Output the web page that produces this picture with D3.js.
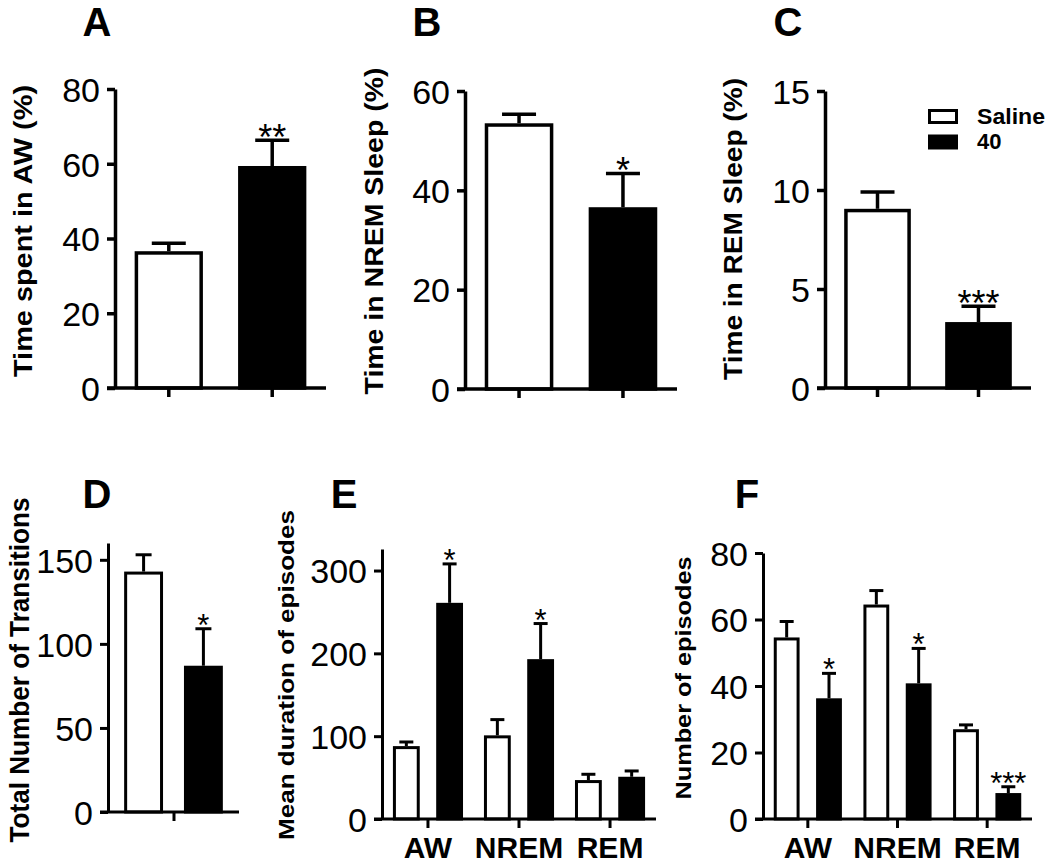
<!DOCTYPE html>
<html><head><meta charset="utf-8">
<script src="https://cdn.jsdelivr.net/npm/d3@7"></script>
<style>
body{margin:0;background:#fff}
svg text{font-family:"Liberation Sans",Arial,Helvetica,sans-serif;fill:#000}
</style>
</head><body>
<svg id="chart" width="1050" height="863"></svg>
<script>
// ---------------- data ----------------
const groups = ["Saline", "40"];
const states = ["AW", "NREM", "REM"];

const awMean = [36.6, 59.4];
const awSem = [2.1, 6.9];
const awSig = ["", "**"];

const nremMean = [53.5, 36.6];
const nremSem = [1.8, 6.8];
const nremSig = ["", "*"];

const remMean = [9.05, 3.33];
const remSem = [0.85, 0.8];
const remSig = ["", "***"];

const transMean = [143, 87];
const transSem = [10, 22];
const transSig = ["", "*"];

const durSaline = [88, 101, 47];
const durSalineSem = [5, 19, 7];
const durSalineSig = ["", "", ""];
const dur40 = [261, 193, 51];
const dur40Sem = [47, 43, 7];
const dur40Sig = ["*", "*", ""];

const epiSaline = [54.6, 64.5, 27];
const epiSalineSem = [4.8, 4.2, 1.3];
const epiSalineSig = ["", "", ""];
const epi40 = [36.3, 40.8, 7.8];
const epi40Sem = [7.5, 10.5, 1.9];
const epi40Sig = ["*", "*", "***"];

const ticksA = [0, 20, 40, 60, 80];
const ticksB = [0, 20, 40, 60];
const ticksC = [0, 5, 10, 15];
const ticksD = [0, 50, 100, 150];
const ticksE = [0, 100, 200, 300];
const ticksF = [0, 20, 40, 60, 80];

const fills = {"Saline": "#fff", "40": "#000"};

// ---------------- layout ----------------
const svg = d3.select("#chart");
const FONT_TICK = 34;

function yAxis(g, y, ticks, sw) {
  const ax = g.append("g").attr("transform", `translate(${y.x0},0)`)
    .call(d3.axisLeft(y.scale).tickValues(ticks).tickSize(8).tickSizeOuter(0).tickPadding(7).tickFormat(d3.format("d")));
  ax.selectAll("path,line").attr("stroke", "#000").attr("stroke-width", sw);
  ax.selectAll("text").attr("font-size", FONT_TICK).attr("dy", "0.36em").attr("fill", "#000");
  return ax;
}

function yLabel(g, text, cx, cy, len, fs) {
  g.append("text")
    .attr("transform", `translate(${cx},${cy}) rotate(-90)`)
    .attr("text-anchor", "middle").attr("dominant-baseline", "central")
    .attr("font-weight", "bold").attr("font-size", fs)
    .attr("textLength", len).attr("lengthAdjust", "spacingAndGlyphs")
    .text(text);
}

function letter(g, t, x, y) {
  g.append("text").attr("x", x).attr("y", y).attr("text-anchor", "middle")
    .attr("font-weight", "bold").attr("font-size", 40).text(t);
}

function drawBar(g, xl, bw, y, yb, v, sem, sig, fill, sw, cap, sfs) {
  g.append("rect")
    .attr("x", xl + sw / 2).attr("width", bw - sw)
    .attr("y", y(v) + sw / 2).attr("height", Math.max(0, yb - y(v) - sw / 2))
    .attr("fill", fill).attr("stroke", "#000").attr("stroke-width", sw);
  const cx = xl + bw / 2;
  const top = y(v + sem);
  g.append("line").attr("x1", cx).attr("x2", cx).attr("y1", y(v)).attr("y2", top)
    .attr("stroke", "#000").attr("stroke-width", sw);
  g.append("line").attr("x1", cx - cap / 2).attr("x2", cx + cap / 2).attr("y1", top).attr("y2", top)
    .attr("stroke", "#000").attr("stroke-width", sw);
  if (sig) {
    g.append("text").attr("x", cx).attr("y", top - 11 + 0.58 * sfs)
      .attr("text-anchor", "middle").attr("font-size", sfs).text(sig);
  }
}

// simple two-bar panels
function simplePanel(p) {
  const g = svg.append("g");
  const y = d3.scaleLinear().domain([0, p.ymax]).range([p.yb, p.yt]);
  const x = d3.scaleBand().domain(groups).range([p.x0, p.x1]).paddingInner(p.pi).paddingOuter(p.po);
  groups.forEach((grp, i) => {
    drawBar(g, x(grp), x.bandwidth(), y, p.yb, p.mean[i], p.sem[i], p.sig[i], fills[grp], p.sw, p.cap, p.sfs);
  });
  yAxis(g, {x0: p.x0, scale: y}, p.ticks, p.sw);
  let xs = x;
  if (p.singleTick) xs = d3.scalePoint().domain(["all"]).range([p.x0, p.x1]).padding(0.5);
  const xa = g.append("g").attr("transform", `translate(0,${p.yb})`)
    .call(d3.axisBottom(xs).tickSize(9).tickSizeOuter(0).tickFormat(""));
  xa.select(".domain").attr("d", `M${p.x0 - 8},0H${p.x1}`);
  xa.selectAll("path,line").attr("stroke", "#000").attr("stroke-width", p.sw);
  yLabel(g, p.label, p.labX, p.labY, p.labLen, p.labFs);
  letter(g, p.letter, p.lx, p.ly);
  return g;
}

// grouped panels
function groupedPanel(p) {
  const g = svg.append("g");
  const y = d3.scaleLinear().domain([0, p.ymax]).range([p.yb, p.yt]);
  const x = d3.scaleBand().domain(states).range([p.x0, p.x1]).paddingInner(p.pi).paddingOuter(p.po);
  const xi = d3.scaleBand().domain(groups).range([0, x.bandwidth()]).paddingInner(p.ipi).paddingOuter(0);
  states.forEach((st, j) => {
    groups.forEach((grp, i) => {
      const s = p.series[i];
      drawBar(g, x(st) + xi(grp), xi.bandwidth(), y, p.yb, s.mean[j], s.sem[j], s.sig[j], fills[grp], p.sw, p.cap, p.sfs);
    });
  });
  yAxis(g, {x0: p.x0, scale: y}, p.ticks, p.sw);
  const xa = g.append("g").attr("transform", `translate(0,${p.yb})`)
    .call(d3.axisBottom(x).tickSize(9).tickSizeOuter(0).tickPadding(9));
  xa.select(".domain").attr("d", `M${p.x0 - 8},0H${p.x1}`);
  xa.selectAll("path,line").attr("stroke", "#000").attr("stroke-width", p.sw);
  xa.selectAll("text").attr("font-size", 30).attr("font-weight", "bold").attr("fill", "#000");
  yLabel(g, p.label, p.labX, p.labY, p.labLen, p.labFs);
  letter(g, p.letter, p.lx, p.ly);
  return g;
}

simplePanel({letter: "A", lx: 97, ly: 36, x0: 115, x1: 326, yb: 388, yt: 89, ymax: 80, ticks: ticksA,
  mean: awMean, sem: awSem, sig: awSig, sw: 3.5, cap: 34, sfs: 36, pi: 0.34, po: 0.19,
  label: "Time spent in AW (%)", labX: 23, labY: 231, labLen: 292, labFs: 25});

simplePanel({letter: "B", lx: 427, ly: 36, x0: 465, x1: 677, yb: 389, yt: 91, ymax: 60, ticks: ticksB,
  mean: nremMean, sem: nremSem, sig: nremSig, sw: 3.5, cap: 34, sfs: 36, pi: 0.34, po: 0.19,
  label: "Time in NREM Sleep (%)", labX: 374, labY: 231, labLen: 327, labFs: 25});

const gC = simplePanel({letter: "C", lx: 788, ly: 36, x0: 825, x1: 1031, yb: 388, yt: 91, ymax: 15, ticks: ticksC,
  mean: remMean, sem: remSem, sig: remSig, sw: 3.5, cap: 34, sfs: 36, pi: 0.34, po: 0.19,
  label: "Time in REM Sleep (%)", labX: 733, labY: 229, labLen: 302, labFs: 25});

// legend
const legend = gC.append("g");
groups.forEach((grp, i) => {
  legend.append("rect").attr("x", 929.5).attr("y", 110.5 + i * 25.5).attr("width", 27).attr("height", 12)
    .attr("fill", fills[grp]).attr("stroke", "#000").attr("stroke-width", 3);
  const t = legend.append("text").attr("x", 977).attr("y", 123.5 + i * 25)
    .attr("font-weight", "bold").attr("font-size", 22).text(grp);
  if (grp === "Saline") t.attr("textLength", 68).attr("lengthAdjust", "spacingAndGlyphs");
});

simplePanel({letter: "D", lx: 97, ly: 508, x0: 108, x1: 239, yb: 812, yt: 543, ymax: 160, ticks: ticksD,
  mean: transMean, sem: transSem, sig: transSig, sw: 3, cap: 16, sfs: 31, pi: 0.35, po: 0.27, singleTick: true,
  label: "Total Number of Transitions", labX: 20, labY: 670, labLen: 345, labFs: 27});

groupedPanel({letter: "E", lx: 344, ly: 508, x0: 382, x1: 656, yb: 819, yt: 549, ymax: 326, ticks: ticksE,
  series: [{mean: durSaline, sem: durSalineSem, sig: durSalineSig}, {mean: dur40, sem: dur40Sem, sig: dur40Sig}],
  sw: 3, cap: 14, sfs: 31, pi: 0.23, po: 0.12, ipi: 0.38,
  label: "Mean duration of episodes", labX: 286, labY: 675, labLen: 330, labFs: 22});

groupedPanel({letter: "F", lx: 747, ly: 508, x0: 763, x1: 1032, yb: 819, yt: 553, ymax: 80, ticks: ticksF,
  series: [{mean: epiSaline, sem: epiSalineSem, sig: epiSalineSig}, {mean: epi40, sem: epi40Sem, sig: epi40Sig}],
  sw: 3, cap: 14, sfs: 31, pi: 0.24, po: 0.12, ipi: 0.39,
  label: "Number of episodes", labX: 683, labY: 678, labLen: 243, labFs: 22});
</script>
</body></html>
